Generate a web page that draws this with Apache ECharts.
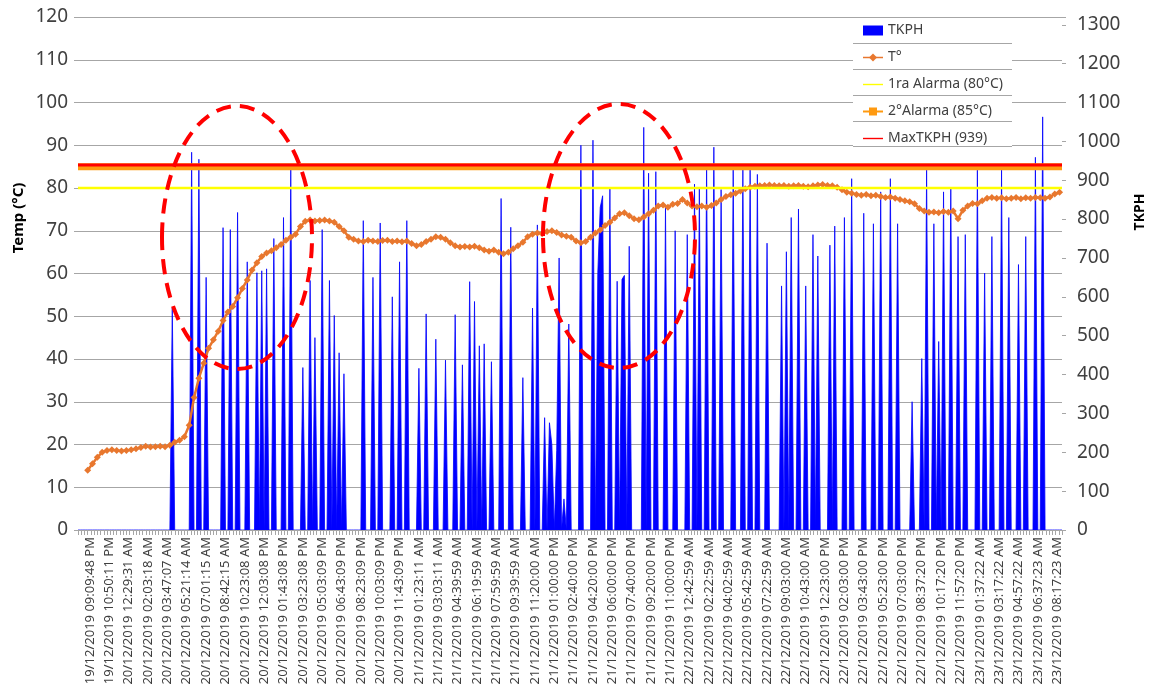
<!DOCTYPE html>
<html><head><meta charset="utf-8">
<script src="https://cdn.jsdelivr.net/npm/echarts@6/dist/echarts.min.js"></script>
<style>html,body{margin:0;padding:0;background:#fff}#c{width:1150px;height:691px}</style>
</head><body><div id="c"></div>
<script>
const tickLabels = [
 '19/12/2019 09:09:48 PM','19/12/2019 10:50:11 PM','20/12/2019 12:29:31 AM','20/12/2019 02:03:18 AM','20/12/2019 03:47:07 AM',
 '20/12/2019 05:21:14 AM','20/12/2019 07:01:15 AM','20/12/2019 08:42:15 AM','20/12/2019 10:23:08 AM','20/12/2019 12:03:08 PM',
 '20/12/2019 01:43:08 PM','20/12/2019 03:23:08 PM','20/12/2019 05:03:09 PM','20/12/2019 06:43:09 PM','20/12/2019 08:23:09 PM',
 '20/12/2019 10:03:09 PM','20/12/2019 11:43:09 PM','21/12/2019 01:23:11 AM','21/12/2019 03:03:11 AM','21/12/2019 04:39:59 AM',
 '21/12/2019 06:19:59 AM','21/12/2019 07:59:59 AM','21/12/2019 09:39:59 AM','21/12/2019 11:20:00 AM','21/12/2019 01:00:00 PM',
 '21/12/2019 02:40:00 PM','21/12/2019 04:20:00 PM','21/12/2019 06:00:00 PM','21/12/2019 07:40:00 PM','21/12/2019 09:20:00 PM',
 '21/12/2019 11:00:00 PM','22/12/2019 12:42:59 AM','22/12/2019 02:22:59 AM','22/12/2019 04:02:59 AM','22/12/2019 05:42:59 AM',
 '22/12/2019 07:22:59 AM','22/12/2019 09:03:00 AM','22/12/2019 10:43:00 AM','22/12/2019 12:23:00 PM','22/12/2019 02:03:00 PM',
 '22/12/2019 03:43:00 PM','22/12/2019 05:23:00 PM','22/12/2019 07:03:00 PM','22/12/2019 08:37:20 PM','22/12/2019 10:17:20 PM',
 '22/12/2019 11:57:20 PM','23/12/2019 01:37:22 AM','23/12/2019 03:17:22 AM','23/12/2019 04:57:22 AM','23/12/2019 06:37:23 AM',
 '23/12/2019 08:17:23 AM'
];
const labelStart = 5, labelStep = 8, categoryCount = 408;
const tempStart = 4, tempStep = 2;
const tempValues = [
 14.0,15.5,17.0,18.2,18.6,18.8,18.6,18.5,18.6,18.8,
 19.0,19.3,19.6,19.4,19.5,19.6,19.5,19.8,20.5,21.0,
 21.8,24.5,31.0,35.5,39.0,42.5,44.5,46.5,49.0,51.0,
 52.3,54.3,56.5,58.5,60.8,62.5,64.0,64.8,65.3,66.0,
 66.8,67.8,68.5,69.2,71.0,72.2,72.5,72.3,72.4,72.5,
 72.3,72.0,71.0,70.0,68.5,68.0,67.6,67.5,67.8,67.6,
 67.5,67.7,67.8,67.5,67.6,67.4,67.6,67.0,66.5,66.8,
 67.5,68.0,68.6,68.5,68.0,67.2,66.5,66.2,66.3,66.2,
 66.4,66.0,65.5,65.2,65.5,65.0,64.6,65.0,65.8,66.5,
 67.3,68.6,69.2,69.5,69.3,69.8,70.0,69.6,69.0,68.7,
 68.5,67.6,67.2,67.5,68.5,69.5,70.2,71.2,72.0,73.0,
 74.0,74.2,73.5,72.8,72.6,73.2,74.0,74.8,75.8,76.0,
 75.5,76.2,76.4,77.3,76.5,75.8,75.6,75.8,75.5,75.9,
 76.5,77.3,78.0,78.4,78.8,79.3,79.8,80.2,80.4,80.5,
 80.6,80.7,80.6,80.5,80.6,80.4,80.5,80.6,80.4,80.3,
 80.5,80.7,80.8,80.6,80.5,80.2,79.6,79.0,78.8,78.5,
 78.3,78.5,78.2,78.3,78.0,77.8,77.9,77.6,77.3,77.0,
 76.8,76.3,75.2,74.6,74.3,74.4,74.2,74.5,74.3,74.6,
 72.8,74.8,75.8,76.4,76.3,77.0,77.6,77.8,77.6,77.7,
 77.5,77.6,77.8,77.5,77.7,77.6,77.8,77.7,77.6,77.9,
 78.6,79.0
];
const tkphSpikes = [
 [39,572],[47,972],[50,954],[53,650],[60,778],[63,773],[66,817],[70,690],[74,662],[76,667],[78,672],[81,750],[85,804],[88,928],
 [93,418],[96,642],[98,495],[101,773],[104,642],[106,552],[108,456],[110,402],
 [118,796],[122,650],[125,790],[130,600],[133,690],[136,796],[141,416],[144,556],[148,491],[152,437],[156,554],[159,425],
 [162,639],[164,588],[166,474],[168,479],[171,433],[175,853],[179,779],[184,392],[188,571],[190,785],
 [193,289],[195,276],[196,219],[198,204],[199,700],[201,80],[203,530],[208,990],[213,1003],[215,662],[216,830],[217,860],
 [220,880],[223,640],[225,645],[226,655],[228,730],[234,1036],[236,918],[239,922],[243,830],[247,770],[252,760],
 [255,890],[257,880],[260,940],[263,985],[266,876],[271,935],[275,927],[278,930],[281,915],[285,738],[291,628],[293,716],
 [295,804],[298,826],[301,628],[304,760],[306,705],[311,733],[313,782],[317,804],[320,904],[325,815],[329,788],[332,870],
 [336,904],[339,788],[345,330],[349,441],[351,926],[354,788],[356,485],[358,870],[361,882],[364,755],[367,760],[372,926],
 [375,661],[378,755],[382,926],[385,804],[389,683],[392,755],[396,959],[399,1063]
];
const alarm1 = 80, alarm2 = 85, maxTkph = 939;
const tickMarkCount = 305;

const categories = [];
for (let i = 0; i < categoryCount; i++) {
  const k = (i - labelStart) / labelStep;
  categories.push(Number.isInteger(k) && k >= 0 && k < tickLabels.length ? tickLabels[k] : '');
}
const tkphData = categories.map(() => 0);
tkphSpikes.forEach(([i, v]) => { tkphData[i] = v; });
const tempData = tempValues.map((v, j) => [tempStart + j * tempStep, v]);
const alarm1Data = categories.map(() => alarm1);
const alarm2Data = categories.map(() => alarm2);
const maxData = categories.map(() => maxTkph);
const tickCats = new Array(tickMarkCount).fill('');

const FONT = "'Noto Sans', 'Open Sans', sans-serif";
const LINE_ICON = 'path://M0,0 M20,10 M0,4.3 L20,4.3 L20,5.7 L0,5.7 Z';
const chart = echarts.init(document.getElementById('c'), null, {renderer: 'canvas'});
chart.setOption({
  animation: false,
  backgroundColor: '#ffffff',
  grid: {left: 78, right: 88, top: 17, bottom: 161, containLabel: false},
  xAxis: [{
    type: 'category', data: categories, boundaryGap: false, z: 10,
    axisLine: {show: true, lineStyle: {color: '#a6a6a6', width: 1}},
    axisTick: {show: false},
    axisLabel: {interval: 0, rotate: 90, fontSize: 13, color: '#404040', margin: 7, fontFamily: FONT},
    splitLine: {show: false}
  }, {
    type: 'category', data: tickCats, boundaryGap: true, position: 'bottom', gridIndex: 0,
    axisLine: {show: false},
    axisTick: {show: true, interval: 0, length: 5, lineStyle: {color: '#a6a6a6'}},
    axisLabel: {show: false}, splitLine: {show: false}
  }],
  yAxis: [{
    type: 'value', min: 0, max: 120, interval: 10, position: 'left',
    axisLine: {show: false},
    axisTick: {show: true, length: 4, lineStyle: {color: '#a6a6a6'}},
    axisLabel: {fontSize: 19, color: '#404040', margin: 10, fontFamily: FONT},
    splitLine: {show: true, lineStyle: {color: '#a6a6a6', width: 1}}
  }, {
    type: 'value', min: 0, max: 1320, interval: 100, position: 'right',
    axisLine: {show: false},
    axisTick: {show: true, length: 4, lineStyle: {color: '#a6a6a6'}},
    axisLabel: {fontSize: 19, color: '#404040', margin: 15, fontFamily: FONT,
      formatter: v => (v % 100 === 0 ? String(v) : '')},
    splitLine: {show: false}
  }],
  legend: {
    orient: 'vertical', left: 862, top: 23, padding: 0, itemWidth: 20, itemHeight: 10, itemGap: 12, z: 20,
    textStyle: {fontSize: 14, color: '#404040', lineHeight: 15, fontFamily: FONT},
    data: [
      {name: 'TKPH', icon: 'rect', itemStyle: {color: '#0000FF'}},
      {name: 'T°', lineStyle: {width: 1.5}},
      {name: '1ra Alarma (80°C)', icon: LINE_ICON, itemStyle: {color: '#FFFF00'}},
      {name: '2°Alarma (85°C)', lineStyle: {width: 2}},
      {name: 'MaxTKPH (939)', icon: LINE_ICON, itemStyle: {color: '#FF0000'}}
    ]
  },
  series: [{
    name: 'TKPH', type: 'line', xAxisIndex: 0, yAxisIndex: 1, data: tkphData,
    symbol: 'none', silent: true, z: 2,
    lineStyle: {width: 0.8, color: '#0000FF'},
    areaStyle: {color: '#0000FF', opacity: 1},
    itemStyle: {color: '#0000FF'}
  }, {
    name: 'T°', type: 'line', xAxisIndex: 0, yAxisIndex: 0, data: tempData,
    symbol: 'diamond', symbolSize: 7, showSymbol: true, silent: true, z: 3,
    lineStyle: {width: 2.5, color: '#E8772E'},
    itemStyle: {color: '#E8772E'}
  }, {
    name: '1ra Alarma (80°C)', type: 'line', xAxisIndex: 0, yAxisIndex: 0, data: alarm1Data,
    symbol: 'none', silent: true, z: 4,
    lineStyle: {width: 2.5, color: '#FFFF00'}, itemStyle: {color: '#FFFF00'}
  }, {
    name: '2°Alarma (85°C)', type: 'line', xAxisIndex: 0, yAxisIndex: 0, data: alarm2Data,
    symbol: 'rect', symbolSize: 6, showSymbol: false, silent: true, z: 4,
    lineStyle: {width: 7, color: '#FF9A10'}, itemStyle: {color: '#FF9A10'}
  }, {
    name: 'MaxTKPH (939)', type: 'line', xAxisIndex: 0, yAxisIndex: 1, data: maxData,
    symbol: 'none', silent: true, z: 5,
    lineStyle: {width: 3, color: '#FF0000'}, itemStyle: {color: '#FF0000'}
  }],
  graphic: [
    {type: 'rect', z: 15, shape: {x: 853, y: 16, width: 159, height: 130}, style: {fill: '#ffffff'}},
    {type: 'line', z: 16, shape: {x1: 853, y1: 17.5, x2: 1012, y2: 17.5}, style: {stroke: '#a6a6a6', lineWidth: 1}},
    {type: 'line', z: 16, shape: {x1: 853, y1: 43.5, x2: 1012, y2: 43.5}, style: {stroke: '#a6a6a6', lineWidth: 1}},
    {type: 'line', z: 16, shape: {x1: 853, y1: 69.5, x2: 1012, y2: 69.5}, style: {stroke: '#a6a6a6', lineWidth: 1}},
    {type: 'line', z: 16, shape: {x1: 853, y1: 95.5, x2: 1012, y2: 95.5}, style: {stroke: '#a6a6a6', lineWidth: 1}},
    {type: 'line', z: 16, shape: {x1: 853, y1: 121.5, x2: 1012, y2: 121.5}, style: {stroke: '#a6a6a6', lineWidth: 1}},
    {type: 'line', z: 16, shape: {x1: 853, y1: 146.5, x2: 1012, y2: 146.5}, style: {stroke: '#a6a6a6', lineWidth: 1}},
    {type: 'text', z: 30, x: 19, y: 218, rotation: Math.PI / 2,
      style: {text: 'Temp (°C)', fontSize: 15, fontWeight: 'bold', fontFamily: FONT, fill: '#000',
        align: 'center', verticalAlign: 'middle', textAlign: 'center', textVerticalAlign: 'middle'}},
    {type: 'text', z: 30, x: 1140, y: 212, rotation: Math.PI / 2,
      style: {text: 'TKPH', fontSize: 14, fontWeight: 'bold', fontFamily: FONT, fill: '#000',
        align: 'center', verticalAlign: 'middle', textAlign: 'center', textVerticalAlign: 'middle'}},
    {type: 'ellipse', z: 40, shape: {cx: 237, cy: 237.5, rx: 75, ry: 131.5},
      style: {fill: 'none', stroke: '#FF0000', lineWidth: 4, lineDash: [15, 9]}},
    {type: 'ellipse', z: 40, shape: {cx: 619, cy: 236, rx: 76, ry: 132},
      style: {fill: 'none', stroke: '#FF0000', lineWidth: 4, lineDash: [15, 9]}}
  ]
});
</script>
</body></html>
